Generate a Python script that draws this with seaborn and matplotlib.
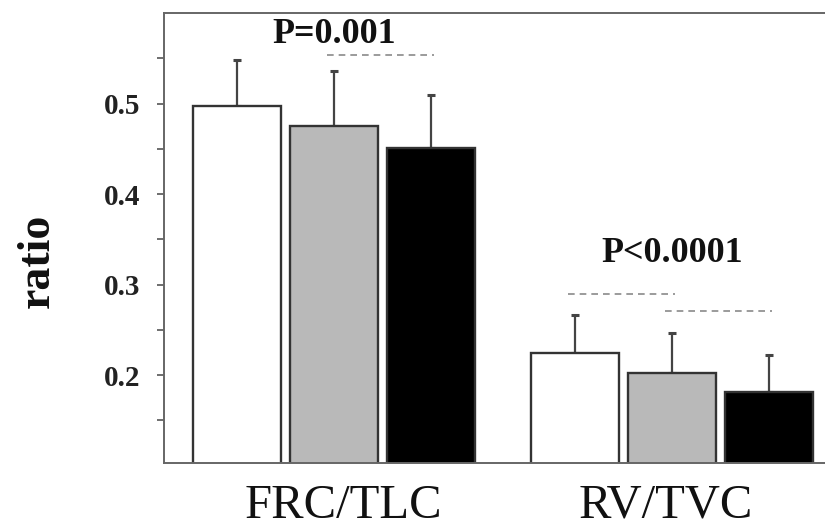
import matplotlib
matplotlib.use("Agg")
import matplotlib.pyplot as plt
import matplotlib.transforms as mtransforms
import seaborn as sns
import pandas as pd
import numpy as np

# ---- data ----
categories = ["FRC/TLC", "RV/TVC"]
groups = ["Group 1", "Group 2", "Group 3"]
means_g1 = [0.497, 0.224]
means_g2 = [0.475, 0.202]
means_g3 = [0.451, 0.181]
sd_g1 = [0.051, 0.042]
sd_g2 = [0.061, 0.045]
sd_g3 = [0.058, 0.041]
colors = ["#ffffff", "#b9b9b9", "#000000"]
yticks = [0.2, 0.3, 0.4, 0.5]
yticklabels = ["0.2", "0.3", "0.4", "0.5"]
p_texts = ["P=0.001", "P<0.0001"]
p_text_y = [0.576, 0.334]
# significance dashed lines: (category index, from group, to group, y)
sig_lines = [(0, 1, 2, 0.554), (1, 0, 1, 0.2895), (1, 1, 2, 0.271)]

df = pd.DataFrame({
    "category": categories * 3,
    "group": [g for g in groups for _ in categories],
    "value": means_g1 + means_g2 + means_g3,
})
sds = [sd_g1, sd_g2, sd_g3]

sns.set_theme(style="white")
plt.rcParams["font.family"] = ["Liberation Serif", "DejaVu Serif"]

fig = plt.figure(figsize=(8.25, 5.23), dpi=100)
ax = fig.add_axes([0.1988, 0.1147, 0.8012, 0.8604])

sns.barplot(data=df, x="category", y="value", hue="group", order=categories,
            hue_order=groups, palette=colors, width=0.862, gap=0.09,
            errorbar=None, edgecolor="#333333", linewidth=1.7, legend=False, ax=ax)

bar_containers = list(ax.containers)

# error bars (upward only)
centers = {}
for gi, cont in enumerate(bar_containers):
    for ci, bar in enumerate(cont.patches):
        xc = bar.get_x() + bar.get_width() / 2
        h = bar.get_height()
        centers[(ci, gi)] = xc
        ax.errorbar([xc], [h], yerr=[[0], [sds[gi][ci]]], fmt="none",
                    ecolor="#444444", elinewidth=1.6, capsize=3, capthick=2.2,
                    zorder=1)
for bar in ax.patches:
    bar.set_zorder(2)

# significance lines
for ci, ga, gb, yv in sig_lines:
    ax.plot([centers[(ci, ga)] - 0.02, centers[(ci, gb)] + 0.01], [yv, yv],
            color="#8a8a8a", lw=1.2, ls=(0, (4, 3)), zorder=3)

for ci, (t, yv) in enumerate(zip(p_texts, p_text_y)):
    ax.text(ci, yv, t, ha="center", va="center", fontsize=26,
            fontweight="bold", color="#111111")

ax.set_xlim(-0.503, 1.453)
ax.set_ylim(0.103, 0.6)
ax.set_yticks(yticks)
ax.set_yticklabels(yticklabels, fontsize=21, fontweight="bold", color="#222222")
ax.set_yticks([0.15, 0.25, 0.35, 0.45, 0.55], minor=True)
ax.tick_params(axis="y", which="both", direction="out", length=5, width=1.2,
               color="#555555", left=True, pad=12)
ax.tick_params(axis="x", length=0, pad=15)
x_offsets_px = [9, -6]
for lbl, dx in zip(ax.get_xticklabels(), x_offsets_px):
    lbl.set_fontsize(35)
    lbl.set_color("#111111")
    lbl.set_transform(lbl.get_transform() +
                      mtransforms.ScaledTranslation(dx / 100, 0, fig.dpi_scale_trans))
ax.set_xlabel("")
ax.set_ylabel("ratio", fontsize=33, fontweight="bold", color="#111111")
ax.yaxis.set_label_coords(-0.159, 0.45)

for side in ["left", "top", "bottom"]:
    ax.spines[side].set_color("#666666")
    ax.spines[side].set_linewidth(1.4)
ax.spines["right"].set_visible(False)

fig.savefig("out.png", dpi=100)
